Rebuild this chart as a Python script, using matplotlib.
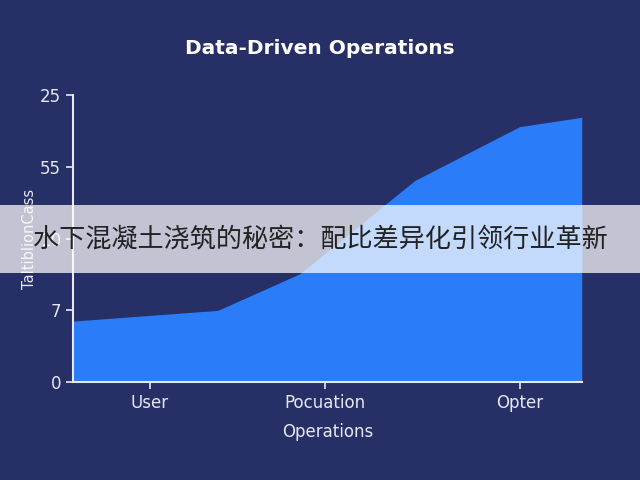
import matplotlib.pyplot as plt

# data (y in tick-slot units, x in 0-100 along the axis)
x_vals = [0, 28.5, 44.6, 67.2, 87.8, 100]
y_vals = [0.85, 1.0, 1.51, 2.81, 3.56, 3.69]

x_tick_pos = [15.1, 49.5, 87.8]
x_tick_labels = ['User', 'Pocuation', 'Opter']
y_tick_pos = [0, 1, 2, 3, 4]
y_tick_labels = ['0', '7', '10', '55', '25']

banner_text = '水下混凝土浇筑的秘密：配比差异化引领行业革新'

bg = '#262f66'
blue = '#2a7cf8'
fg = '#e6e8f0'

fig = plt.figure(figsize=(6.4, 4.8), dpi=100, facecolor=bg)
ax = fig.add_axes([0.114, 0.204, 0.795, 0.598], facecolor=bg)

ax.fill_between(x_vals, 0, y_vals, color=blue, linewidth=0)
ax.set_xlim(0, 100)
ax.set_ylim(0, 4)

ax.set_xticks(x_tick_pos)
ax.set_xticklabels(x_tick_labels)
ax.set_yticks(y_tick_pos)
ax.set_yticklabels(y_tick_labels)
ax.tick_params(colors=fg, labelsize=12, length=5, width=1.2)

for s in ['top', 'right']:
    ax.spines[s].set_visible(False)
for s in ['left', 'bottom']:
    ax.spines[s].set_color(fg)
    ax.spines[s].set_linewidth(1.5)

ax.set_xlabel('Operations', color=fg, fontsize=12, labelpad=8)
ax.set_ylabel('TaltiblionCass', color=fg, fontsize=10.5, labelpad=2)

fig.text(0.5, 0.9, 'Data-Driven Operations', color='white', fontsize=14.5,
         fontweight='bold', ha='center', va='center')

# translucent banner across the middle
fig.patches.append(plt.Rectangle((0, 0.431), 1, 0.142, transform=fig.transFigure,
                                 facecolor='white', alpha=0.72, zorder=5))
fig.text(0.5, 0.502, banner_text, color='#222222', fontsize=18.8,
         family=['Noto Sans CJK SC', 'DejaVu Sans'], ha='center', va='center', zorder=6)

fig.savefig('out.png', dpi=100, facecolor=bg)
